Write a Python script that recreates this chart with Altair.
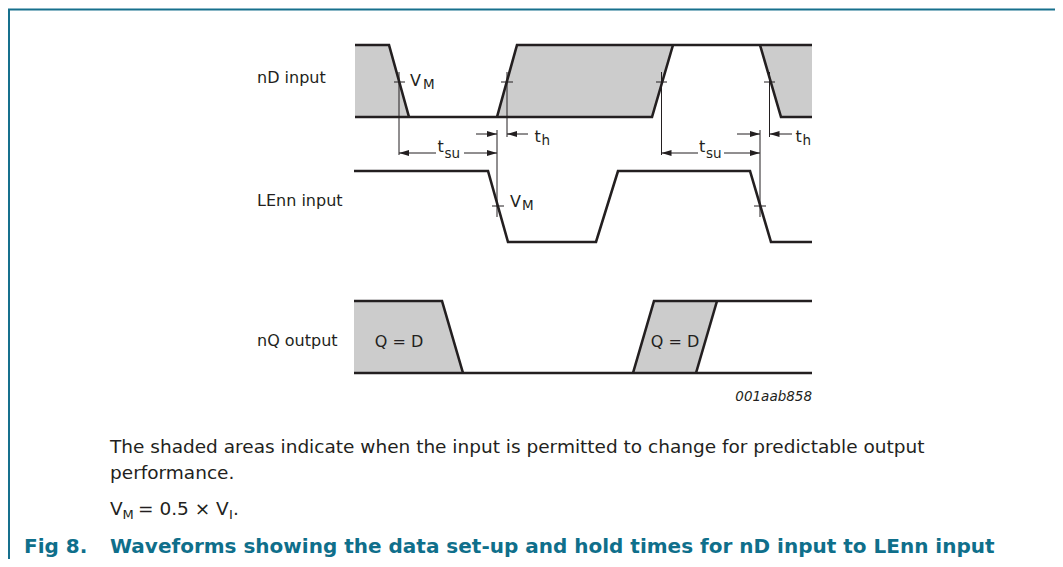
import altair as alt
import pandas as pd

# ---------------- data (reference pixel units: x = time, y = level) ----------------
ROW_LABELS = ["nD input", "LEnn input", "nQ output"]
ROW_LABEL_Y = [78, 201, 341]

# waveform polylines
ND_LINES = {
    "nd1": [(355, 45), (389, 45), (409, 117)],
    "nd2": [(355, 117), (652, 117), (673, 45)],
    "nd3": [(497, 117), (517, 45), (812, 45)],
    "nd4": [(760, 45), (781, 117), (812, 117)],
}
LE_LINES = {
    "le1": [(354, 171), (488, 171), (508, 242), (596, 242), (618, 171),
            (750, 171), (771, 242), (812, 242)],
}
NQ_LINES = {
    "nq1": [(354, 301), (442, 301), (463, 373)],
    "nq2": [(354, 373), (812, 373)],
    "nq3": [(633, 373), (654, 301), (812, 301)],
    "nq4": [(696, 373), (717, 301)],
}
# shaded regions: (t, upper, lower)
SHADED = {
    "s1": [(355, 45, 117), (389, 45, 117), (409, 117, 117)],
    "s2": [(497, 117, 117), (517, 45, 117), (652, 45, 117), (673, 45, 45)],
    "s3": [(760, 45, 45), (781, 45, 117), (812, 45, 117)],
    "s4": [(354, 301, 373), (442, 301, 373), (463, 373, 373)],
    "s5": [(633, 373, 373), (654, 301, 373), (696, 301, 373), (717, 301, 301)],
}
# thin reference lines (x1, y1, x2, y2)
THIN = [
    (399, 72, 399, 155), (507, 72, 507, 137), (497, 130, 497, 217),
    (661.5, 72, 661.5, 155), (769.5, 72, 769.5, 137), (760, 130, 760, 217),
    (394, 82, 405, 82), (501, 82, 513, 82), (492, 206, 504, 206),
    (656, 82, 667, 82), (764, 82, 775, 82), (754, 206, 766, 206),
    (399, 153, 436, 153), (464, 153, 497, 153),
    (476, 134, 497, 134), (507, 134, 528, 134),
    (661.5, 153, 698, 153), (724, 153, 760, 153),
    (737, 134, 760, 134), (769.5, 134, 792, 134),
]
ARROW_RIGHT = [(497, 153), (497, 134), (760, 153), (760, 134)]
ARROW_LEFT = [(399, 153), (507, 134), (661.5, 153), (769.5, 134)]

BIG_TEXT = [  # (x, y, text)
    (410, 86, "V"), (510, 207, "V"),
    (534.5, 142, "t"), (795.5, 142, "t"),
    (437.5, 152, "t"), (699, 152, "t"),
]
SUB_TEXT = [
    (423, 89, "M"), (522, 210, "M"),
    (541.5, 145, "h"), (802.5, 145, "h"),
    (444.5, 158, "su"), (706, 158, "su"),
]
QD_TEXT = [(399, 342, "Q = D"), (675, 342, "Q = D")]
FIG_ID = "001aab858"

CAPTION = [
    (110, 453, "The shaded areas indicate when the input is permitted to change for predictable output"),
    (110, 479, "performance."),
    (110, 515, "V"), (138, 515, "= 0.5 × V"),
]
CAPTION_SUB = [(122.5, 519, "M"), (229, 519, "I")]
CAPTION_TAIL = [(233, 515, ".")]
TITLE = [(24, 553, "Fig 8."), (110, 553, "Waveforms showing the data set-up and hold times for nD input to LEnn input")]

# frame lines (x1, y1, x2, y2)
FRAME_TOP = [(8, 9.5, 1062, 9.5), (9, 9, 9, 570)]

# ---------------- build ----------------
W, H = 1047, 551
X0, Y0 = 8, 8
INK = "#231f20"
GRAY = "#cccccc"
TEAL = "#0f6f8b"
FONT = "DejaVu Sans"

xs = alt.Scale(domain=[X0, X0 + W], nice=False, zero=False)
ys = alt.Scale(domain=[Y0, Y0 + H], reverse=True, nice=False, zero=False)


def poly_df(d):
    rows = []
    for k, pts in d.items():
        for i, (x, y) in enumerate(pts):
            rows.append({"seg": k, "i": i, "x": x, "y": y})
    return pd.DataFrame(rows)


def seg_df(lst):
    rows = []
    for k, (x1, y1, x2, y2) in enumerate(lst):
        rows.append({"seg": k, "i": 0, "x": x1, "y": y1})
        rows.append({"seg": k, "i": 1, "x": x2, "y": y2})
    return pd.DataFrame(rows)


def lines(df, color, width):
    return alt.Chart(df).mark_line(color=color, strokeWidth=width, strokeJoin="miter",
                                   strokeCap="butt", clip=False).encode(
        x=alt.X("x:Q", scale=xs, axis=None),
        y=alt.Y("y:Q", scale=ys, axis=None),
        detail="seg:N", order="i:Q")


def texts(lst, size, align="left", baseline="alphabetic", color=INK, weight="normal",
          style="normal", font=FONT):
    df = pd.DataFrame(lst, columns=["x", "y", "t"])
    return alt.Chart(df).mark_text(align=align, baseline=baseline, fontSize=size,
                                   font=font, color=color, fontWeight=weight,
                                   fontStyle=style).encode(
        x=alt.X("x:Q", scale=xs, axis=None),
        y=alt.Y("y:Q", scale=ys, axis=None),
        text="t:N")


shade_rows = []
for k, pts in SHADED.items():
    for (x, y1, y2) in pts:
        shade_rows.append({"seg": k, "x": x, "y": y1, "y2": y2})
shade = alt.Chart(pd.DataFrame(shade_rows)).mark_area(color=GRAY, opacity=1, interpolate="linear").encode(
    x=alt.X("x:Q", scale=xs, axis=None),
    y=alt.Y("y:Q", scale=ys, axis=None),
    y2="y2:Q", detail="seg:N")

wave = lines(pd.concat([poly_df(ND_LINES), poly_df(LE_LINES), poly_df(NQ_LINES)]), INK, 2.6)
thin = lines(seg_df(THIN), INK, 1)
frame1 = lines(seg_df(FRAME_TOP), "#17708d", 2)


def arrows(lst, path):
    df = pd.DataFrame(lst, columns=["x", "y"])
    return alt.Chart(df).mark_point(shape=path, size=400, filled=True, color=INK,
                                    opacity=1, strokeWidth=0).encode(
        x=alt.X("x:Q", scale=xs, axis=None),
        y=alt.Y("y:Q", scale=ys, axis=None))


arr_r = arrows(ARROW_RIGHT, "M0,0L-1,-0.3L-1,0.3Z")
arr_l = arrows(ARROW_LEFT, "M0,0L1,-0.3L1,0.3Z")

labels = texts(list(zip([257] * 3, ROW_LABEL_Y, ROW_LABELS)), 16, baseline="middle")
big = texts(BIG_TEXT, 16)
sub = texts(SUB_TEXT, 13.5)
qd = texts(QD_TEXT, 16, align="center", baseline="middle")
figid = texts([(812, 401, FIG_ID)], 13.5, align="right", style="italic")
cap = texts(CAPTION, 18.5)
cap_sub = texts(CAPTION_SUB, 13)
cap_tail = texts(CAPTION_TAIL, 18.5)
title = texts(TITLE, 20, color=TEAL, weight="bold")

chart = alt.layer(frame1, shade, thin, wave, arr_r, arr_l, labels, big, sub, qd,
                  figid, cap, cap_sub, cap_tail, title).properties(
    width=W, height=H, padding=0, autosize=alt.AutoSizeParams(type="none"),
    background="white"
).configure_view(stroke=None)

chart.save("out.html", embed_options={"renderer": "svg", "actions": False})
